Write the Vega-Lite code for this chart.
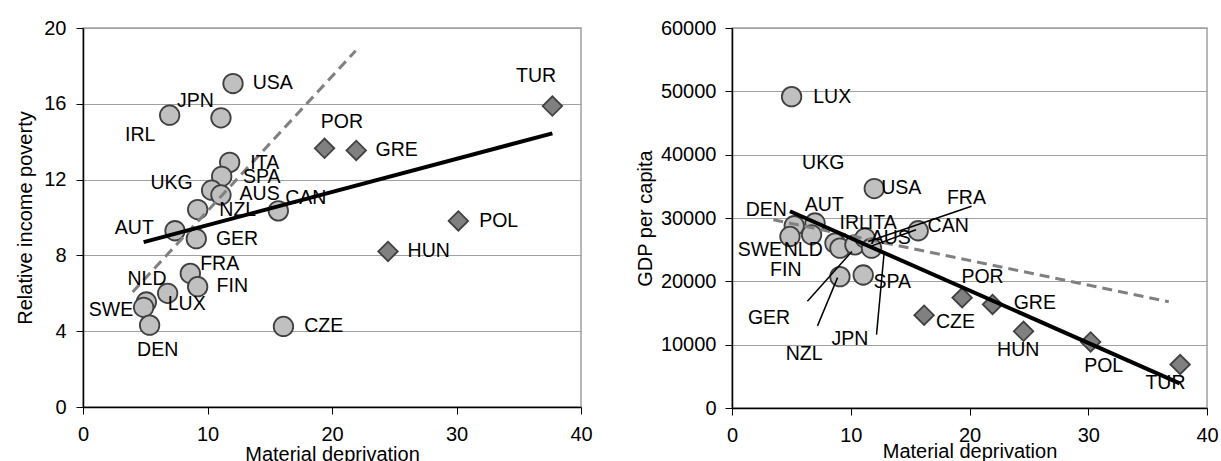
{
  "$schema": "https://vega.github.io/schema/vega-lite/v6.json",
  "usermeta": {"embedOptions": {"actions": false}},
  "background": "white",
  "padding": {"left": 15, "top": 17, "right": 0, "bottom": 0},
  "spacing": 41,
  "config": {
    "font": "Liberation Sans",
    "view": {"stroke": "#a0a0a0", "strokeWidth": 1.5},
    "axis": {
      "labelFont": "Liberation Sans",
      "labelFontSize": 20,
      "labelColor": "#000000",
      "labelFlush": false,
      "titleFont": "Liberation Sans",
      "titleFontSize": 20,
      "titleFontWeight": "normal",
      "titleColor": "#000000",
      "domainColor": "#000000",
      "domainWidth": 1.5,
      "tickColor": "#000000",
      "tickSize": 7,
      "gridColor": "#a0a0a0",
      "gridWidth": 1
    }
  },
  "datasets": {
    "left": [
      {"country": "USA", "md": 12.05, "val": 17.07, "group": "A", "lx": 15.24, "ly": 17.09},
      {"country": "JPN", "md": 11.08, "val": 15.26, "group": "A", "lx": 9.02, "ly": 16.14},
      {"country": "IRL", "md": 6.96, "val": 15.4, "group": "A", "lx": 4.6, "ly": 14.35},
      {"country": "ITA", "md": 11.78, "val": 12.91, "group": "A", "lx": 14.6, "ly": 12.86},
      {"country": "SPA", "md": 11.14, "val": 12.17, "group": "A", "lx": 14.35, "ly": 12.12},
      {"country": "UKG", "md": 10.33, "val": 11.44, "group": "A", "lx": 7.12, "ly": 11.84},
      {"country": "AUS", "md": 11.08, "val": 11.19, "group": "A", "lx": 14.19, "ly": 11.23},
      {"country": "NZL", "md": 9.21, "val": 10.42, "group": "A", "lx": 12.43, "ly": 10.4},
      {"country": "CAN", "md": 15.69, "val": 10.35, "group": "A", "lx": 17.9, "ly": 11.02},
      {"country": "AUT", "md": 7.39, "val": 9.3, "group": "A", "lx": 4.12, "ly": 9.47},
      {"country": "GER", "md": 9.1, "val": 8.88, "group": "A", "lx": 12.37, "ly": 8.88},
      {"country": "FRA", "md": 8.62, "val": 7.05, "group": "A", "lx": 10.98, "ly": 7.56},
      {"country": "FIN", "md": 9.21, "val": 6.35, "group": "A", "lx": 11.99, "ly": 6.37},
      {"country": "LUX", "md": 6.8, "val": 6.0, "group": "A", "lx": 8.33, "ly": 5.46},
      {"country": "NLD", "md": 5.09, "val": 5.54, "group": "A", "lx": 5.14, "ly": 6.77},
      {"country": "SWE", "md": 4.87, "val": 5.26, "group": "A", "lx": 2.25, "ly": 5.14},
      {"country": "DEN", "md": 5.35, "val": 4.32, "group": "A", "lx": 6.0, "ly": 3.02},
      {"country": "CZE", "md": 16.1, "val": 4.25, "group": "A", "lx": 19.33, "ly": 4.26},
      {"country": "POR", "md": 19.4, "val": 13.65, "group": "B", "lx": 20.8, "ly": 15.05},
      {"country": "GRE", "md": 21.95, "val": 13.54, "group": "B", "lx": 25.2, "ly": 13.54},
      {"country": "TUR", "md": 37.7, "val": 15.88, "group": "B", "lx": 36.39, "ly": 17.47},
      {"country": "POL", "md": 30.15, "val": 9.82, "group": "B", "lx": 33.39, "ly": 9.83},
      {"country": "HUN", "md": 24.5, "val": 8.21, "group": "B", "lx": 27.77, "ly": 8.21}
    ],
    "leftTrend": [
      {"series": "fit", "x": 4.87, "y": 8.7},
      {"series": "fit", "x": 37.7, "y": 14.44},
      {"series": "ref", "x": 3.99, "y": 6.07},
      {"series": "ref", "x": 21.9, "y": 18.8}
    ],
    "right": [
      {"country": "LUX", "md": 5.02, "val": 49160, "group": "A"},
      {"country": "USA", "md": 11.98, "val": 34650, "group": "A"},
      {"country": "CAN", "md": 15.68, "val": 27990, "group": "A"},
      {"country": "DEN", "md": 5.24, "val": 28780, "group": "A"},
      {"country": "AUT", "md": 6.99, "val": 29210, "group": "A"},
      {"country": "SWE", "md": 4.88, "val": 27090, "group": "A"},
      {"country": "NLD", "md": 6.7, "val": 27350, "group": "A"},
      {"country": "FIN", "md": 8.67, "val": 26030, "group": "A"},
      {"country": "GER", "md": 9.09, "val": 25240, "group": "A"},
      {"country": "IRL", "md": 10.35, "val": 25760, "group": "A"},
      {"country": "ITA", "md": 11.2, "val": 26830, "group": "A"},
      {"country": "JPN", "md": 11.75, "val": 25240, "group": "A"},
      {"country": "NZL", "md": 9.09, "val": 20740, "group": "A"},
      {"country": "SPA", "md": 11.05, "val": 21000, "group": "A"},
      {"country": "CZE", "md": 16.18, "val": 14650, "group": "B"},
      {"country": "POR", "md": 19.38, "val": 17410, "group": "B"},
      {"country": "GRE", "md": 21.94, "val": 16350, "group": "B"},
      {"country": "HUN", "md": 24.55, "val": 12110, "group": "B"},
      {"country": "POL", "md": 30.2, "val": 10430, "group": "B"},
      {"country": "TUR", "md": 37.74, "val": 6870, "group": "B"}
    ],
    "rightLabels": [
      {"country": "LUX", "lx": 8.44, "ly": 49160},
      {"country": "UKG", "lx": 7.68, "ly": 38730},
      {"country": "USA", "lx": 14.25, "ly": 34760},
      {"country": "AUT", "lx": 7.77, "ly": 32060},
      {"country": "DEN", "lx": 2.89, "ly": 31270},
      {"country": "IRL", "lx": 10.34, "ly": 29210},
      {"country": "ITA", "lx": 12.65, "ly": 29210},
      {"country": "AUS", "lx": 13.37, "ly": 26830},
      {"country": "CAN", "lx": 18.2, "ly": 28680},
      {"country": "FRA", "lx": 19.74, "ly": 33170},
      {"country": "SWE", "lx": 2.35, "ly": 24970},
      {"country": "NLD", "lx": 6.0, "ly": 24970},
      {"country": "FIN", "lx": 4.53, "ly": 21800},
      {"country": "GER", "lx": 3.12, "ly": 14240},
      {"country": "NZL", "lx": 6.07, "ly": 8570},
      {"country": "JPN", "lx": 9.93, "ly": 10840},
      {"country": "SPA", "lx": 13.49, "ly": 19840},
      {"country": "CZE", "lx": 18.82, "ly": 13600},
      {"country": "POR", "lx": 21.1, "ly": 20750},
      {"country": "GRE", "lx": 25.5, "ly": 16510},
      {"country": "HUN", "lx": 24.1, "ly": 9100},
      {"country": "POL", "lx": 31.3, "ly": 6710},
      {"country": "TUR", "lx": 36.5, "ly": 3970}
    ],
    "rightLeaders": [
      {"country": "GER", "x1": 6.35, "y1": 16870, "x2": 10.1, "y2": 24710},
      {"country": "NZL", "x1": 7.2, "y1": 12970, "x2": 8.89, "y2": 20590},
      {"country": "JPN", "x1": 12.17, "y1": 11590, "x2": 12.82, "y2": 24710},
      {"country": "FRA", "x1": 20.17, "y1": 31860, "x2": 11.47, "y2": 26300},
      {"country": "AUS", "x1": 15.5, "y1": 28140, "x2": 11.72, "y2": 25560}
    ],
    "rightTrend": [
      {"series": "fit", "x": 4.88, "y": 31060},
      {"series": "fit", "x": 37.7, "y": 3900},
      {"series": "ref", "x": 3.48, "y": 29730},
      {"series": "ref", "x": 36.78, "y": 16780}
    ]
  },
  "hconcat": [
    {
      "width": 498,
      "height": 379,
      "layer": [
        {
          "data": {"name": "left"},
          "mark": {"type": "point", "filled": true, "size": 380, "stroke": "#404040", "strokeWidth": 1.8, "opacity": 1},
          "encoding": {
            "x": {"field": "md", "type": "quantitative", "scale": {"domain": [0, 40], "nice": false}, "axis": {"values": [0, 10, 20, 30, 40], "title": "Material deprivation", "grid": false, "labelPadding": 10, "titlePadding": 0}},
            "y": {"field": "val", "type": "quantitative", "scale": {"domain": [0, 20], "nice": false}, "axis": {"values": [0, 4, 8, 12, 16, 20], "title": "Relative income poverty", "labelPadding": 10, "titlePadding": 8}},
            "shape": {"field": "group", "type": "nominal", "scale": {"domain": ["A", "B"], "range": ["circle", "diamond"]}, "legend": null},
            "fill": {"field": "group", "type": "nominal", "scale": {"domain": ["A", "B"], "range": ["#c0c0c0", "#808080"]}, "legend": null}
          }
        },
        {
          "data": {"name": "leftTrend"},
          "transform": [{"filter": "datum.series === 'ref'"}],
          "mark": {"type": "line", "color": "#808080", "strokeWidth": 3, "strokeDash": [10, 6]},
          "encoding": {
            "x": {"field": "x", "type": "quantitative"},
            "y": {"field": "y", "type": "quantitative"}
          }
        },
        {
          "data": {"name": "leftTrend"},
          "transform": [{"filter": "datum.series === 'fit'"}],
          "mark": {"type": "line", "color": "#000000", "strokeWidth": 4},
          "encoding": {
            "x": {"field": "x", "type": "quantitative"},
            "y": {"field": "y", "type": "quantitative"}
          }
        },
        {
          "data": {"name": "left"},
          "mark": {"type": "text", "font": "Liberation Sans", "fontSize": 19.5, "color": "#000000", "align": "center", "baseline": "middle"},
          "encoding": {
            "x": {"field": "lx", "type": "quantitative"},
            "y": {"field": "ly", "type": "quantitative"},
            "text": {"field": "country"}
          }
        }
      ]
    },
    {
      "width": 475,
      "height": 380,
      "layer": [
        {
          "data": {"name": "right"},
          "mark": {"type": "point", "filled": true, "size": 380, "stroke": "#404040", "strokeWidth": 1.8, "opacity": 1},
          "encoding": {
            "x": {"field": "md", "type": "quantitative", "scale": {"domain": [0, 40], "nice": false}, "axis": {"values": [0, 10, 20, 30, 40], "title": "Material deprivation", "grid": false, "labelPadding": 10, "titlePadding": -4}},
            "y": {"field": "val", "type": "quantitative", "scale": {"domain": [0, 60000], "nice": false}, "axis": {"values": [0, 10000, 20000, 30000, 40000, 50000, 60000], "format": "d", "title": "GDP per capita", "labelPadding": 9, "titlePadding": 5}},
            "shape": {"field": "group", "type": "nominal", "scale": {"domain": ["A", "B"], "range": ["circle", "diamond"]}, "legend": null},
            "fill": {"field": "group", "type": "nominal", "scale": {"domain": ["A", "B"], "range": ["#c0c0c0", "#808080"]}, "legend": null}
          }
        },
        {
          "data": {"name": "rightTrend"},
          "transform": [{"filter": "datum.series === 'ref'"}],
          "mark": {"type": "line", "color": "#808080", "strokeWidth": 3, "strokeDash": [10, 6]},
          "encoding": {
            "x": {"field": "x", "type": "quantitative"},
            "y": {"field": "y", "type": "quantitative"}
          }
        },
        {
          "data": {"name": "rightTrend"},
          "transform": [{"filter": "datum.series === 'fit'"}],
          "mark": {"type": "line", "color": "#000000", "strokeWidth": 4},
          "encoding": {
            "x": {"field": "x", "type": "quantitative"},
            "y": {"field": "y", "type": "quantitative"}
          }
        },
        {
          "data": {"name": "rightLeaders"},
          "mark": {"type": "rule", "color": "#000000", "strokeWidth": 1.5},
          "encoding": {
            "x": {"field": "x1", "type": "quantitative"},
            "y": {"field": "y1", "type": "quantitative"},
            "x2": {"field": "x2"},
            "y2": {"field": "y2"}
          }
        },
        {
          "data": {"name": "rightLabels"},
          "mark": {"type": "text", "font": "Liberation Sans", "fontSize": 19.5, "color": "#000000", "align": "center", "baseline": "middle"},
          "encoding": {
            "x": {"field": "lx", "type": "quantitative"},
            "y": {"field": "ly", "type": "quantitative"},
            "text": {"field": "country"}
          }
        }
      ]
    }
  ]
}
